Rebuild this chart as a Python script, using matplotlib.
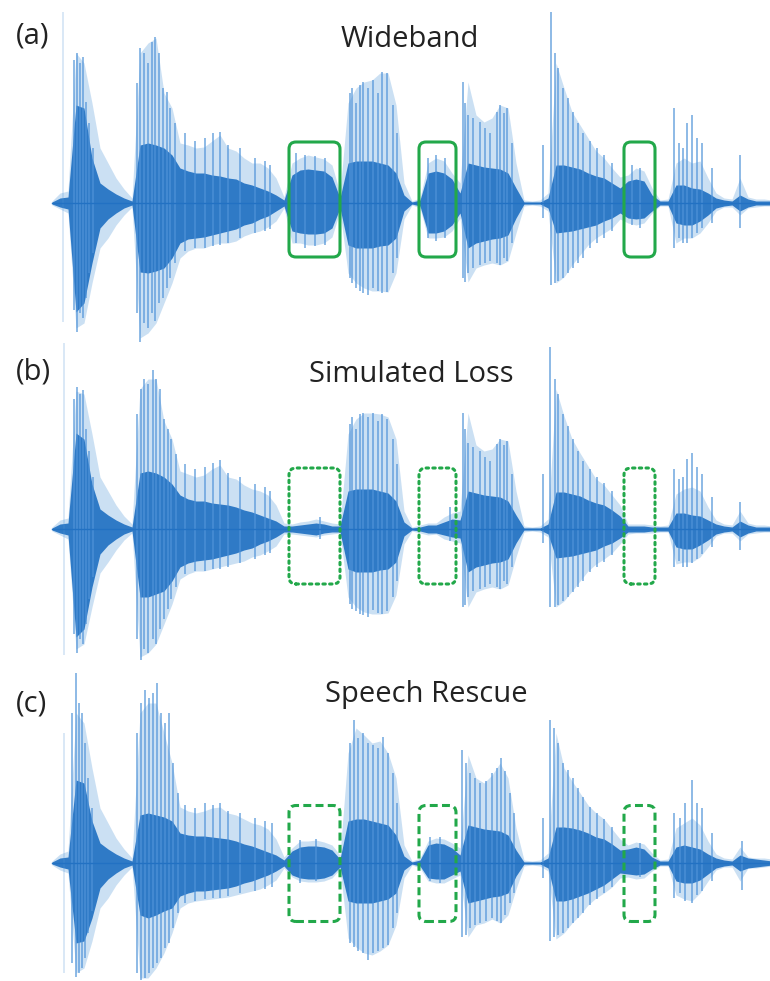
import numpy as np
import matplotlib
matplotlib.use("Agg")
import matplotlib.pyplot as plt
from matplotlib.patches import FancyBboxPatch

# ---------------- data (amplitude in display units, time in samples) ----------------
time_grid = np.arange(52, 773, 8)

# (a) Wideband
wb_hi = [2, 10, 12, 150, 140, 100, 55, 40, 25, 14, 5, 150, 160, 165, 110, 95, 60, 58, 55, 56,
         62, 68, 55, 52, 45, 40, 40, 35, 25, 6, 40, 45, 48, 46, 44, 38, 10, 100, 115, 121,
         123, 130, 130, 98, 20, 2, 5, 40, 45, 42, 30, 20, 121, 88, 81, 85, 98, 95, 40, 3,
         2, 3, 10, 140, 115, 91, 78, 65, 52, 45, 35, 26, 28, 35, 32, 15, 3, 4, 40, 45,
         40, 42, 25, 10, 5, 4, 25, 6, 4, 4, 3]
wb_lo = [-2, -6, -10, -125, -120, -80, -45, -35, -22, -12, -4, -135, -130, -120, -100, -80, -55, -48, -45, -45,
         -42, -40, -40, -38, -33, -30, -28, -24, -18, -5, -40, -40, -42, -42, -40, -34, -8, -70, -80, -85,
         -88, -88, -89, -70, -16, -2, -5, -35, -35, -34, -28, -15, -79, -65, -62, -60, -62, -58, -30, -3,
         -2, -3, -8, -80, -74, -62, -52, -42, -35, -30, -25, -16, -20, -22, -20, -10, -3, -3, -40, -35,
         -35, -30, -20, -8, -4, -4, -12, -5, -4, -3, -3]
wb_core_hi = [1, 5, 6, 98, 95, 45, 20, 14, 9, 5, 2, 58, 60, 58, 55, 48, 35, 32, 30, 30,
              28, 27, 25, 24, 20, 18, 15, 12, 8, 3, 28, 33, 34, 33, 32, 26, 5, 40, 42, 42,
              42, 40, 38, 30, 8, 1, 3, 30, 32, 30, 24, 10, 40, 38, 36, 35, 34, 30, 15, 1,
              1, 1, 5, 38, 38, 36, 34, 30, 27, 25, 20, 15, 22, 24, 22, 8, 2, 2, 18, 18,
              15, 14, 10, 5, 3, 2, 8, 4, 2, 2, 2]
wb_core_lo = [-1, -4, -6, -109, -100, -60, -25, -16, -10, -5, -2, -69, -70, -68, -65, -55, -40, -36, -35, -34,
              -32, -30, -28, -26, -22, -20, -16, -13, -8, -3, -28, -30, -31, -31, -30, -25, -5, -42, -45, -45,
              -45, -43, -42, -35, -8, -1, -3, -30, -30, -28, -22, -10, -45, -40, -38, -36, -35, -32, -15, -1,
              -1, -1, -5, -30, -29, -28, -26, -24, -22, -18, -15, -10, -15, -16, -15, -8, -2, -2, -20, -22,
              -22, -18, -12, -5, -3, -2, -8, -4, -2, -2, -2]
wb_faint_t, wb_faint_hi, wb_faint_lo = [63], [191], [-119]
wb_spike_t = [74, 77, 80, 83, 86, 89, 93, 137, 140, 144, 148, 152, 155, 159, 163, 167, 170, 175,
              185, 195, 205, 213, 220, 228, 240, 255, 265, 270, 296, 305, 315, 325,
              350, 352, 356, 360, 363, 368, 373, 378, 382, 387, 393, 397, 428, 436, 445,
              463, 465, 468, 473, 480, 485, 490, 497, 500, 504, 507, 512, 543,
              551, 555, 558, 563, 568, 573, 578, 583, 590, 597, 604, 612, 632, 640,
              674, 679, 683, 687, 692, 697, 702, 712, 740]
wb_spike_hi = [143, 150, 140, 146, 101, 80, 55, 120, 155, 150, 140, 161, 166, 150, 115, 111, 95, 80,
               70, 62, 65, 70, 71, 58, 55, 45, 42, 38, 50, 48, 47, 45,
               110, 115, 100, 118, 121, 115, 123, 110, 131, 130, 98, 70, 45, 48, 45,
               121, 100, 88, 85, 81, 75, 70, 91, 98, 90, 95, 60, 58,
               191, 150, 135, 115, 105, 91, 80, 70, 62, 55, 48, 40, 38, 35,
               95, 60, 55, 80, 88, 65, 60, 35, 48]
wb_spike_lo = [-107, -129, -110, -115, -95, -70, -50, -110, -139, -120, -125, -110, -118, -100, -95, -85, -75, -60,
               -48, -45, -45, -43, -42, -40, -35, -30, -28, -26, -40, -45, -43, -42,
               -75, -80, -85, -88, -90, -92, -85, -88, -90, -89, -70, -55, -35, -38, -35,
               -75, -79, -70, -65, -62, -60, -58, -60, -62, -55, -58, -40, -15,
               -82, -80, -78, -75, -70, -65, -60, -55, -45, -40, -35, -28, -22, -25,
               -45, -35, -40, -40, -35, -30, -25, -20, -25]

# (b) Simulated Loss
sl_hi = [2, 9, 11, 138, 135, 95, 52, 38, 24, 13, 5, 140, 150, 150, 108, 90, 58, 55, 52, 54,
         60, 64, 52, 50, 44, 40, 38, 34, 24, 6, 5, 7, 8, 10, 8, 6, 5, 95, 110, 116,
         116, 115, 112, 90, 18, 2, 4, 6, 6, 12, 16, 18, 116, 84, 78, 80, 90, 88, 38, 3,
         2, 3, 10, 140, 113, 90, 76, 63, 50, 44, 34, 24, 5, 5, 5, 4, 3, 4, 35, 40,
         42, 38, 22, 9, 5, 4, 18, 6, 4, 4, 3]
sl_lo = [-2, -6, -10, -120, -115, -78, -44, -33, -21, -11, -4, -128, -124, -115, -95, -75, -50, -45, -42, -42,
         -40, -38, -36, -34, -32, -28, -26, -22, -17, -5, -5, -6, -7, -8, -6, -5, -4, -68, -78, -83,
         -85, -85, -84, -66, -15, -2, -4, -6, -5, -10, -12, -14, -78, -63, -60, -58, -60, -56, -28, -3,
         -2, -3, -8, -78, -72, -62, -52, -42, -35, -30, -24, -15, -5, -4, -4, -4, -3, -3, -35, -33,
         -33, -28, -18, -7, -4, -4, -12, -5, -4, -3, -3]
sl_core_hi = [1, 5, 6, 96, 90, 45, 20, 14, 9, 5, 2, 56, 58, 56, 52, 45, 34, 30, 28, 28,
              26, 25, 24, 22, 19, 17, 14, 11, 8, 3, 3, 4, 5, 6, 5, 3, 3, 38, 40, 40,
              40, 38, 36, 28, 7, 1, 2, 4, 4, 7, 10, 9, 38, 36, 34, 33, 32, 28, 14, 1,
              1, 1, 5, 37, 37, 35, 33, 29, 26, 24, 19, 13, 3, 3, 3, 2, 2, 2, 16, 16,
              14, 13, 9, 5, 3, 2, 8, 4, 2, 2, 2]
sl_core_lo = [-1, -4, -6, -108, -100, -58, -25, -16, -10, -5, -2, -68, -68, -65, -62, -52, -38, -34, -32, -31,
              -30, -28, -26, -24, -21, -19, -15, -12, -8, -3, -3, -4, -5, -6, -4, -3, -3, -40, -43, -43,
              -43, -41, -40, -33, -7, -1, -2, -4, -4, -6, -8, -9, -43, -38, -36, -34, -33, -30, -14, -1,
              -1, -1, -5, -29, -28, -27, -25, -23, -21, -17, -14, -9, -3, -3, -3, -2, -2, -2, -18, -20,
              -20, -16, -11, -5, -3, -2, -8, -4, -2, -2, -2]
sl_faint_t, sl_faint_hi, sl_faint_lo = [64], [186], [-126]
sl_spike_t = [74, 77, 80, 83, 86, 89, 93, 137, 141, 144, 148, 153, 156, 160, 164, 168, 171, 176,
              185, 195, 205, 213, 220, 228, 240, 255, 265, 270, 320,
              350, 352, 356, 360, 363, 368, 373, 378, 382, 387, 393, 397, 450,
              463, 465, 468, 473, 480, 485, 490, 497, 500, 504, 507, 512, 543,
              550, 555, 558, 563, 568, 573, 578, 583, 590, 597, 604, 612,
              674, 679, 683, 687, 692, 697, 702, 712, 740]
sl_spike_hi = [130, 142, 135, 139, 100, 78, 52, 115, 140, 150, 145, 159, 150, 140, 110, 100, 90, 75,
               65, 60, 62, 66, 69, 56, 52, 45, 42, 38, 12,
               105, 112, 100, 115, 116, 112, 116, 108, 115, 110, 90, 65, 22,
               116, 100, 86, 82, 78, 72, 68, 85, 90, 84, 88, 55, 55,
               182, 150, 135, 115, 103, 90, 78, 68, 60, 52, 46, 38,
               60, 50, 52, 70, 76, 62, 55, 32, 27]
sl_spike_lo = [-105, -124, -110, -115, -95, -70, -48, -110, -131, -120, -124, -110, -115, -100, -90, -80, -70, -58,
               -45, -42, -42, -40, -40, -38, -34, -30, -26, -24, -10,
               -75, -80, -82, -85, -86, -88, -81, -84, -85, -82, -68, -52, -12,
               -78, -76, -68, -62, -60, -58, -55, -58, -60, -52, -55, -38, -14,
               -78, -78, -76, -72, -68, -63, -58, -52, -43, -38, -33, -26,
               -38, -32, -38, -38, -34, -30, -25, -18, -21]

# (c) Speech Rescue
sr_hi = [2, 9, 12, 150, 140, 95, 55, 40, 25, 14, 5, 150, 160, 160, 130, 100, 56, 52, 50, 52,
         55, 56, 50, 48, 44, 40, 38, 34, 24, 6, 15, 22, 22, 23, 21, 18, 8, 110, 135, 128,
         120, 122, 110, 85, 18, 2, 5, 22, 25, 24, 20, 15, 108, 85, 80, 88, 100, 85, 35, 3,
         2, 3, 10, 130, 95, 82, 70, 58, 50, 44, 34, 24, 18, 21, 19, 10, 3, 4, 35, 40,
         45, 38, 22, 9, 5, 4, 16, 6, 5, 5, 4]
sr_lo = [-2, -7, -10, -110, -105, -78, -45, -35, -22, -12, -4, -115, -115, -105, -90, -70, -45, -40, -38, -37,
         -36, -35, -34, -32, -30, -28, -26, -22, -17, -5, -14, -18, -19, -19, -18, -15, -6, -75, -84, -90,
         -92, -88, -82, -62, -15, -2, -5, -18, -20, -20, -16, -12, -74, -62, -60, -56, -60, -52, -26, -3,
         -2, -3, -8, -76, -70, -60, -52, -42, -35, -30, -24, -15, -14, -16, -15, -8, -3, -3, -32, -36,
         -38, -30, -18, -7, -4, -4, -18, -5, -5, -4, -3]
sr_core_hi = [1, 5, 6, 83, 80, 42, 20, 14, 9, 5, 2, 48, 50, 48, 46, 42, 30, 28, 27, 27,
              26, 25, 24, 22, 19, 17, 14, 11, 8, 3, 12, 16, 17, 17, 16, 13, 4, 42, 44, 44,
              42, 40, 38, 28, 7, 1, 3, 18, 20, 19, 15, 8, 38, 36, 34, 33, 32, 28, 13, 1,
              1, 1, 5, 36, 36, 35, 33, 30, 26, 24, 19, 13, 14, 16, 14, 6, 2, 2, 16, 18,
              16, 14, 9, 5, 3, 2, 8, 5, 4, 3, 2]
sr_core_lo = [-1, -4, -6, -80, -78, -55, -25, -16, -10, -5, -2, -52, -55, -52, -48, -45, -33, -30, -28, -28,
              -27, -26, -25, -23, -20, -18, -15, -12, -8, -3, -12, -15, -16, -16, -15, -12, -4, -38, -40, -40,
              -40, -38, -36, -30, -7, -1, -3, -15, -16, -16, -12, -8, -40, -38, -36, -34, -33, -30, -13, -1,
              -1, -1, -5, -38, -38, -36, -33, -30, -26, -22, -16, -10, -11, -12, -11, -6, -2, -2, -18, -20,
              -20, -17, -11, -5, -3, -2, -8, -5, -4, -3, -2]
sr_faint_t, sr_faint_hi, sr_faint_lo = [64], [130], [-110]
sr_spike_t = [72, 76, 79, 82, 85, 88, 92, 137, 141, 145, 149, 153, 157, 161, 165, 169, 173, 178,
              185, 195, 205, 213, 220, 228, 240, 255, 265, 272, 300, 316,
              350, 354, 358, 363, 368, 373, 378, 383, 388, 393, 397, 430, 440,
              462, 466, 470, 475, 480, 486, 492, 497, 501, 505, 510, 514, 543,
              550, 554, 558, 563, 568, 573, 578, 583, 590, 597, 604, 612, 640,
              674, 680, 685, 692, 697, 702, 712, 742]
sr_spike_hi = [150, 190, 160, 150, 120, 85, 55, 130, 160, 173, 165, 170, 180, 150, 140, 150, 100, 70,
               58, 55, 60, 58, 60, 52, 50, 45, 42, 40, 23, 24,
               120, 143, 125, 130, 120, 118, 115, 126, 110, 90, 60, 26, 26,
               113, 100, 90, 85, 80, 82, 90, 95, 105, 92, 70, 50, 45,
               143, 135, 120, 100, 93, 85, 75, 66, 56, 50, 44, 36, 20,
               50, 45, 60, 83, 60, 55, 30, 22]
sr_spike_lo = [-100, -114, -110, -105, -95, -70, -48, -110, -117, -115, -110, -105, -100, -95, -85, -80, -65, -50,
               -40, -38, -36, -35, -35, -33, -30, -28, -26, -24, -20, -18,
               -80, -84, -88, -90, -97, -90, -88, -85, -82, -65, -50, -18, -20,
               -74, -72, -65, -62, -60, -58, -55, -58, -60, -52, -40, -30, -15,
               -78, -74, -72, -70, -65, -60, -55, -50, -42, -36, -30, -24, -14,
               -35, -30, -38, -40, -32, -28, -18, -27]

# highlighted (band-limited) segments
seg_start = [289, 419, 624]
seg_end = [340, 456, 655]

titles = ["Wideband", "Simulated Loss", "Speech Rescue"]
labels = ["(a)", "(b)", "(c)"]

# ---------------- layout / style ----------------
W, H = 770, 981
fig = plt.figure(figsize=(W / 100, H / 100), dpi=100)
plt.rcParams['font.family'] = ['Open Sans', 'DejaVu Sans']

ENV_C = '#7eb2e2'
SPK_C = '#4f93d8'
CORE_C = '#2271c3'
GREEN = '#22a84a'

panels = [
    dict(base=203, up=203, down=170, hi=wb_hi, lo=wb_lo, chi=wb_core_hi, clo=wb_core_lo,
         ft=wb_faint_t, fh=wb_faint_hi, fl=wb_faint_lo,
         st=wb_spike_t, sh=wb_spike_hi, sl=wb_spike_lo, box=(61, -54), ls='-',
         title_xy=(410, 47), label_xy=(16, 43)),
    dict(base=529, up=200, down=200, hi=sl_hi, lo=sl_lo, chi=sl_core_hi, clo=sl_core_lo,
         ft=sl_faint_t, fh=sl_faint_hi, fl=sl_faint_lo,
         st=sl_spike_t, sh=sl_spike_hi, sl=sl_spike_lo, box=(61, -55), ls=(0, (0.8, 1.4)),
         title_xy=(411, 382), label_xy=(16, 380)),
    dict(base=863, up=200, down=118, hi=sr_hi, lo=sr_lo, chi=sr_core_hi, clo=sr_core_lo,
         ft=sr_faint_t, fh=sr_faint_hi, fl=sr_faint_lo,
         st=sr_spike_t, sh=sr_spike_hi, sl=sr_spike_lo, box=(57.5, -58.5), ls=(0, (2.6, 1.4)),
         title_xy=(426, 702), label_xy=(16, 711)),
]

for i, p in enumerate(panels):
    base, up, down = p['base'], p['up'], p['down']
    ax = fig.add_axes([0, (H - base - down) / H, 1, (up + down) / H])
    ax.set_xlim(0, W)
    ax.set_ylim(-down, up)
    ax.axis('off')
    ax.patch.set_alpha(0)

    ax.vlines(p['ft'], p['fl'], p['fh'], color=SPK_C, lw=1.2, alpha=0.25)
    ax.fill_between(time_grid, p['lo'], p['hi'], color=ENV_C, alpha=0.4, lw=0)
    ax.vlines(p['st'], p['sl'], p['sh'], color=SPK_C, lw=1.2, alpha=0.75)
    ax.fill_between(time_grid, p['clo'], p['chi'], color=CORE_C, alpha=0.92, lw=0)
    ax.plot(time_grid, np.zeros(len(time_grid)), color=CORE_C, lw=1.0)

    top, bot = p['box']
    for s, e in zip(seg_start, seg_end):
        ax.add_patch(FancyBboxPatch((s, bot), e - s, top - bot,
                                    boxstyle='round,pad=0,rounding_size=7',
                                    fill=False, ec=GREEN, lw=2.2, ls=p['ls'],
                                    capstyle='round' if i == 1 else 'butt', zorder=5))

    tx, ty = p['title_xy']
    fig.text(tx / W, 1 - ty / H, titles[i], ha='center', va='baseline',
             fontsize=21, color='#222222')
    lx, ly = p['label_xy']
    fig.text(lx / W, 1 - ly / H, labels[i], ha='left', va='baseline',
             fontsize=21, color='#222222')

fig.savefig('out.png', dpi=100, facecolor='white')
